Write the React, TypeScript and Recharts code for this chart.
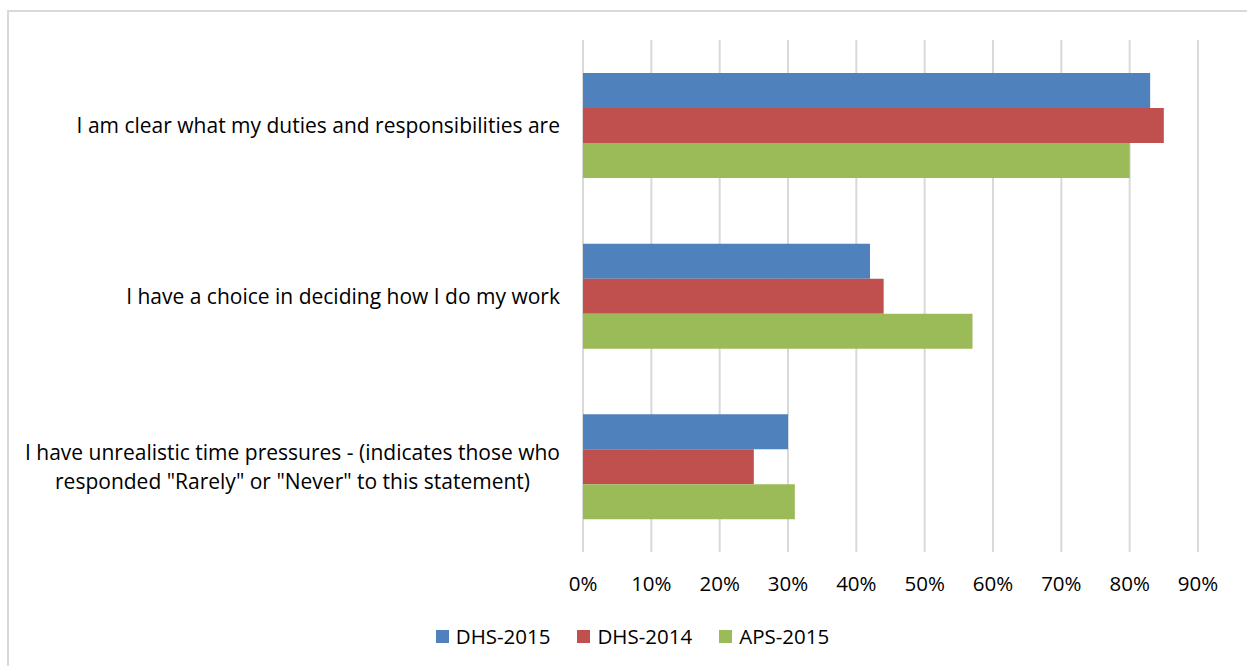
import React from "react";
import { BarChart, Bar, XAxis, YAxis, CartesianGrid, Legend } from "recharts";

const categoryLines: string[][] = [
  ["I am clear what my duties and responsibilities are"],
  ["I have a choice in deciding how I do my work"],
  [
    "I have unrealistic time pressures - (indicates those who",
    'responded "Rarely" or "Never" to this statement)',
  ],
];
const dhs2015 = [83, 42, 30];
const dhs2014 = [85, 44, 25];
const aps2015 = [80, 57, 31];
const xTicks = [0, 10, 20, 30, 40, 50, 60, 70, 80, 90];

const seriesInfo = [
  { key: "dhs2015", name: "DHS-2015", color: "#4F81BD" },
  { key: "dhs2014", name: "DHS-2014", color: "#C0504D" },
  { key: "aps2015", name: "APS-2015", color: "#9BBB59" },
];

const data = categoryLines.map((lines, i) => ({
  label: lines.join(" "),
  dhs2015: dhs2015[i],
  dhs2014: dhs2014[i],
  aps2015: aps2015[i],
}));

const FONT = "'Open Sans', sans-serif";
const FONT_SIZE = 20.5;
const CAT_FONT_SIZE = 21;
const LINE_H = 29;

let ctx: CanvasRenderingContext2D | null = null;
function measure(s: string) {
  if (!ctx) ctx = document.createElement("canvas").getContext("2d");
  if (!ctx) return s.length * CAT_FONT_SIZE * 0.5;
  ctx.font = `${CAT_FONT_SIZE}px 'Open Sans'`;
  return ctx.measureText(s).width;
}

function CategoryTick(props: any) {
  const { x, y, payload } = props;
  const idx = data.findIndex((d) => d.label === payload.value);
  const lines = categoryLines[idx] || [String(payload.value)];
  const blockW = Math.max(...lines.map(measure));
  const cx = x - blockW / 2;
  const startY = y - ((lines.length - 1) * LINE_H) / 2;
  return (
    <text
      textAnchor="middle"
      fontFamily={FONT}
      fontSize={CAT_FONT_SIZE}
      fill="#000"
      dominantBaseline="central"
    >
      {lines.map((l, i) => (
        <tspan key={i} x={cx} y={startY + i * LINE_H}>
          {l}
        </tspan>
      ))}
    </text>
  );
}

function LegendContent() {
  return (
    <div
      style={{
        display: "flex",
        justifyContent: "center",
        alignItems: "center",
        fontFamily: FONT,
        fontSize: FONT_SIZE,
        color: "#000",
      }}
    >
      {seriesInfo.map((s, i) => (
        <div
          key={s.key}
          style={{
            display: "flex",
            alignItems: "center",
            marginLeft: i === 0 ? 0 : 27,
          }}
        >
          <span
            style={{
              display: "inline-block",
              width: 13,
              height: 13,
              background: s.color,
              marginRight: 7,
            }}
          />
          <span>{s.name}</span>
        </div>
      ))}
    </div>
  );
}

export default function App() {
  return (
    <div
      style={{
        position: "absolute",
        left: 0,
        top: 0,
        width: 1247,
        height: 666,
        background: "#fff",
        overflow: "hidden",
      }}
    >
      <div
        style={{
          position: "absolute",
          left: 7,
          top: 10,
          width: 1260,
          height: 680,
          border: "2px solid #d9d9d9",
          boxSizing: "border-box",
        }}
      />
      <div style={{ position: "absolute", left: 0, top: 0 }}>
        <BarChart
          width={1247}
          height={666}
          data={data}
          layout="vertical"
          margin={{ top: 40, right: 49, left: 0, bottom: 74 }}
          barSize={35}
          barGap={0}
        >
          <CartesianGrid
            horizontal={false}
            stroke="#d9d9d9"
            strokeWidth={2}
          />
          <XAxis
            type="number"
            domain={[0, 90]}
            ticks={xTicks}
            interval={0}
            axisLine={false}
            tickLine={false}
            tickMargin={18}
            height={40}
            tickFormatter={(v: number) => `${v}%`}
            tick={{ fontFamily: FONT, fontSize: FONT_SIZE, fill: "#000" }}
          />
          <YAxis
            type="category"
            dataKey="label"
            width={583}
            axisLine={false}
            tickLine={false}
            tickMargin={17}
            tick={<CategoryTick />}
          />
          <Legend
            layout="horizontal"
            verticalAlign="middle"
            align="center"
            content={<LegendContent />}
            wrapperStyle={{ top: 622, left: 9, width: 1247 }}
          />
          {seriesInfo.map((s) => (
            <Bar
              key={s.key}
              dataKey={s.key}
              name={s.name}
              fill={s.color}
              isAnimationActive={false}
            />
          ))}
        </BarChart>
      </div>
    </div>
  );
}
